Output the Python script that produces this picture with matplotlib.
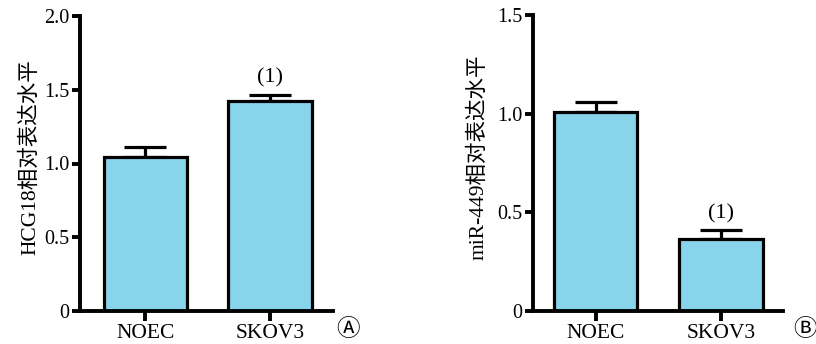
import matplotlib
matplotlib.use('Agg')
import matplotlib.pyplot as plt

plt.rcParams['font.family'] = ['Liberation Serif', 'Noto Sans CJK SC', 'DejaVu Sans']

groups = ['NOEC', 'SKOV3']
hcg18_mean = [1.045, 1.425]
hcg18_err = [0.065, 0.04]
mir449_mean = [1.008, 0.365]
mir449_err = [0.05, 0.045]
hcg18_ticks = [0, 0.5, 1.0, 1.5, 2.0]
hcg18_ticklabels = ['0', '0.5', '1.0', '1.5', '2.0']
mir449_ticks = [0, 0.5, 1.0, 1.5]
mir449_ticklabels = ['0', '0.5', '1.0', '1.5']

bar_color = '#88d4ea'
W, H = 816, 344
fig = plt.figure(figsize=(W / 100, H / 100), dpi=100)


def panel(rect, means, errs, ticks, ticklabels, ylim, xlim, ylabel, ylab_x, letter, letter_x):
    ax = fig.add_axes(rect)
    x = list(range(len(groups)))
    ax.bar(x, means, width=0.667, color=bar_color, edgecolor='black', linewidth=2.3, zorder=2)
    ax.errorbar(x, means, yerr=[[0] * len(errs), errs], fmt='none', ecolor='black',
                elinewidth=2.3, capsize=15, capthick=2.3, zorder=1)
    ax.annotate('(1)', (1, means[1] + errs[1]), xytext=(0, 5), textcoords='offset points',
                ha='center', va='bottom', fontsize=16)
    ax.set_xlim(*xlim)
    ax.set_ylim(*ylim)
    ax.set_xticks(x)
    ax.set_xticklabels(groups, fontsize=15.5)
    ax.set_yticks(ticks)
    ax.set_yticklabels(ticklabels, fontsize=14.5)
    for s in ['top', 'right']:
        ax.spines[s].set_visible(False)
    for s in ['left', 'bottom']:
        ax.spines[s].set_linewidth(2.8)
    ax.tick_params(axis='y', length=5.5, width=2.8, pad=2)
    ax.tick_params(axis='x', length=7, width=2.8, pad=2)
    fig.text(ylab_x / W, 1 - 157 / H, ylabel, rotation=90, ha='center', va='center', fontsize=15.5)
    fig.text(letter_x / W, 1 - 330 / H, letter, ha='center', va='center', fontsize=17)
    return ax


panel([80 / W, 33 / H, 253 / W, 295 / H], hcg18_mean, hcg18_err, hcg18_ticks, hcg18_ticklabels,
      (0, 2.0), (-0.526, 1.506), 'HCG18相对表达水平', 30, 'Ⓐ', 348)
panel([533 / W, 33 / H, 250 / W, 296 / H], mir449_mean, mir449_err, mir449_ticks, mir449_ticklabels,
      (0, 1.5), (-0.498, 1.494), 'miR-449相对表达水平', 478, 'Ⓑ', 805)

fig.savefig('out.png', dpi=100)
